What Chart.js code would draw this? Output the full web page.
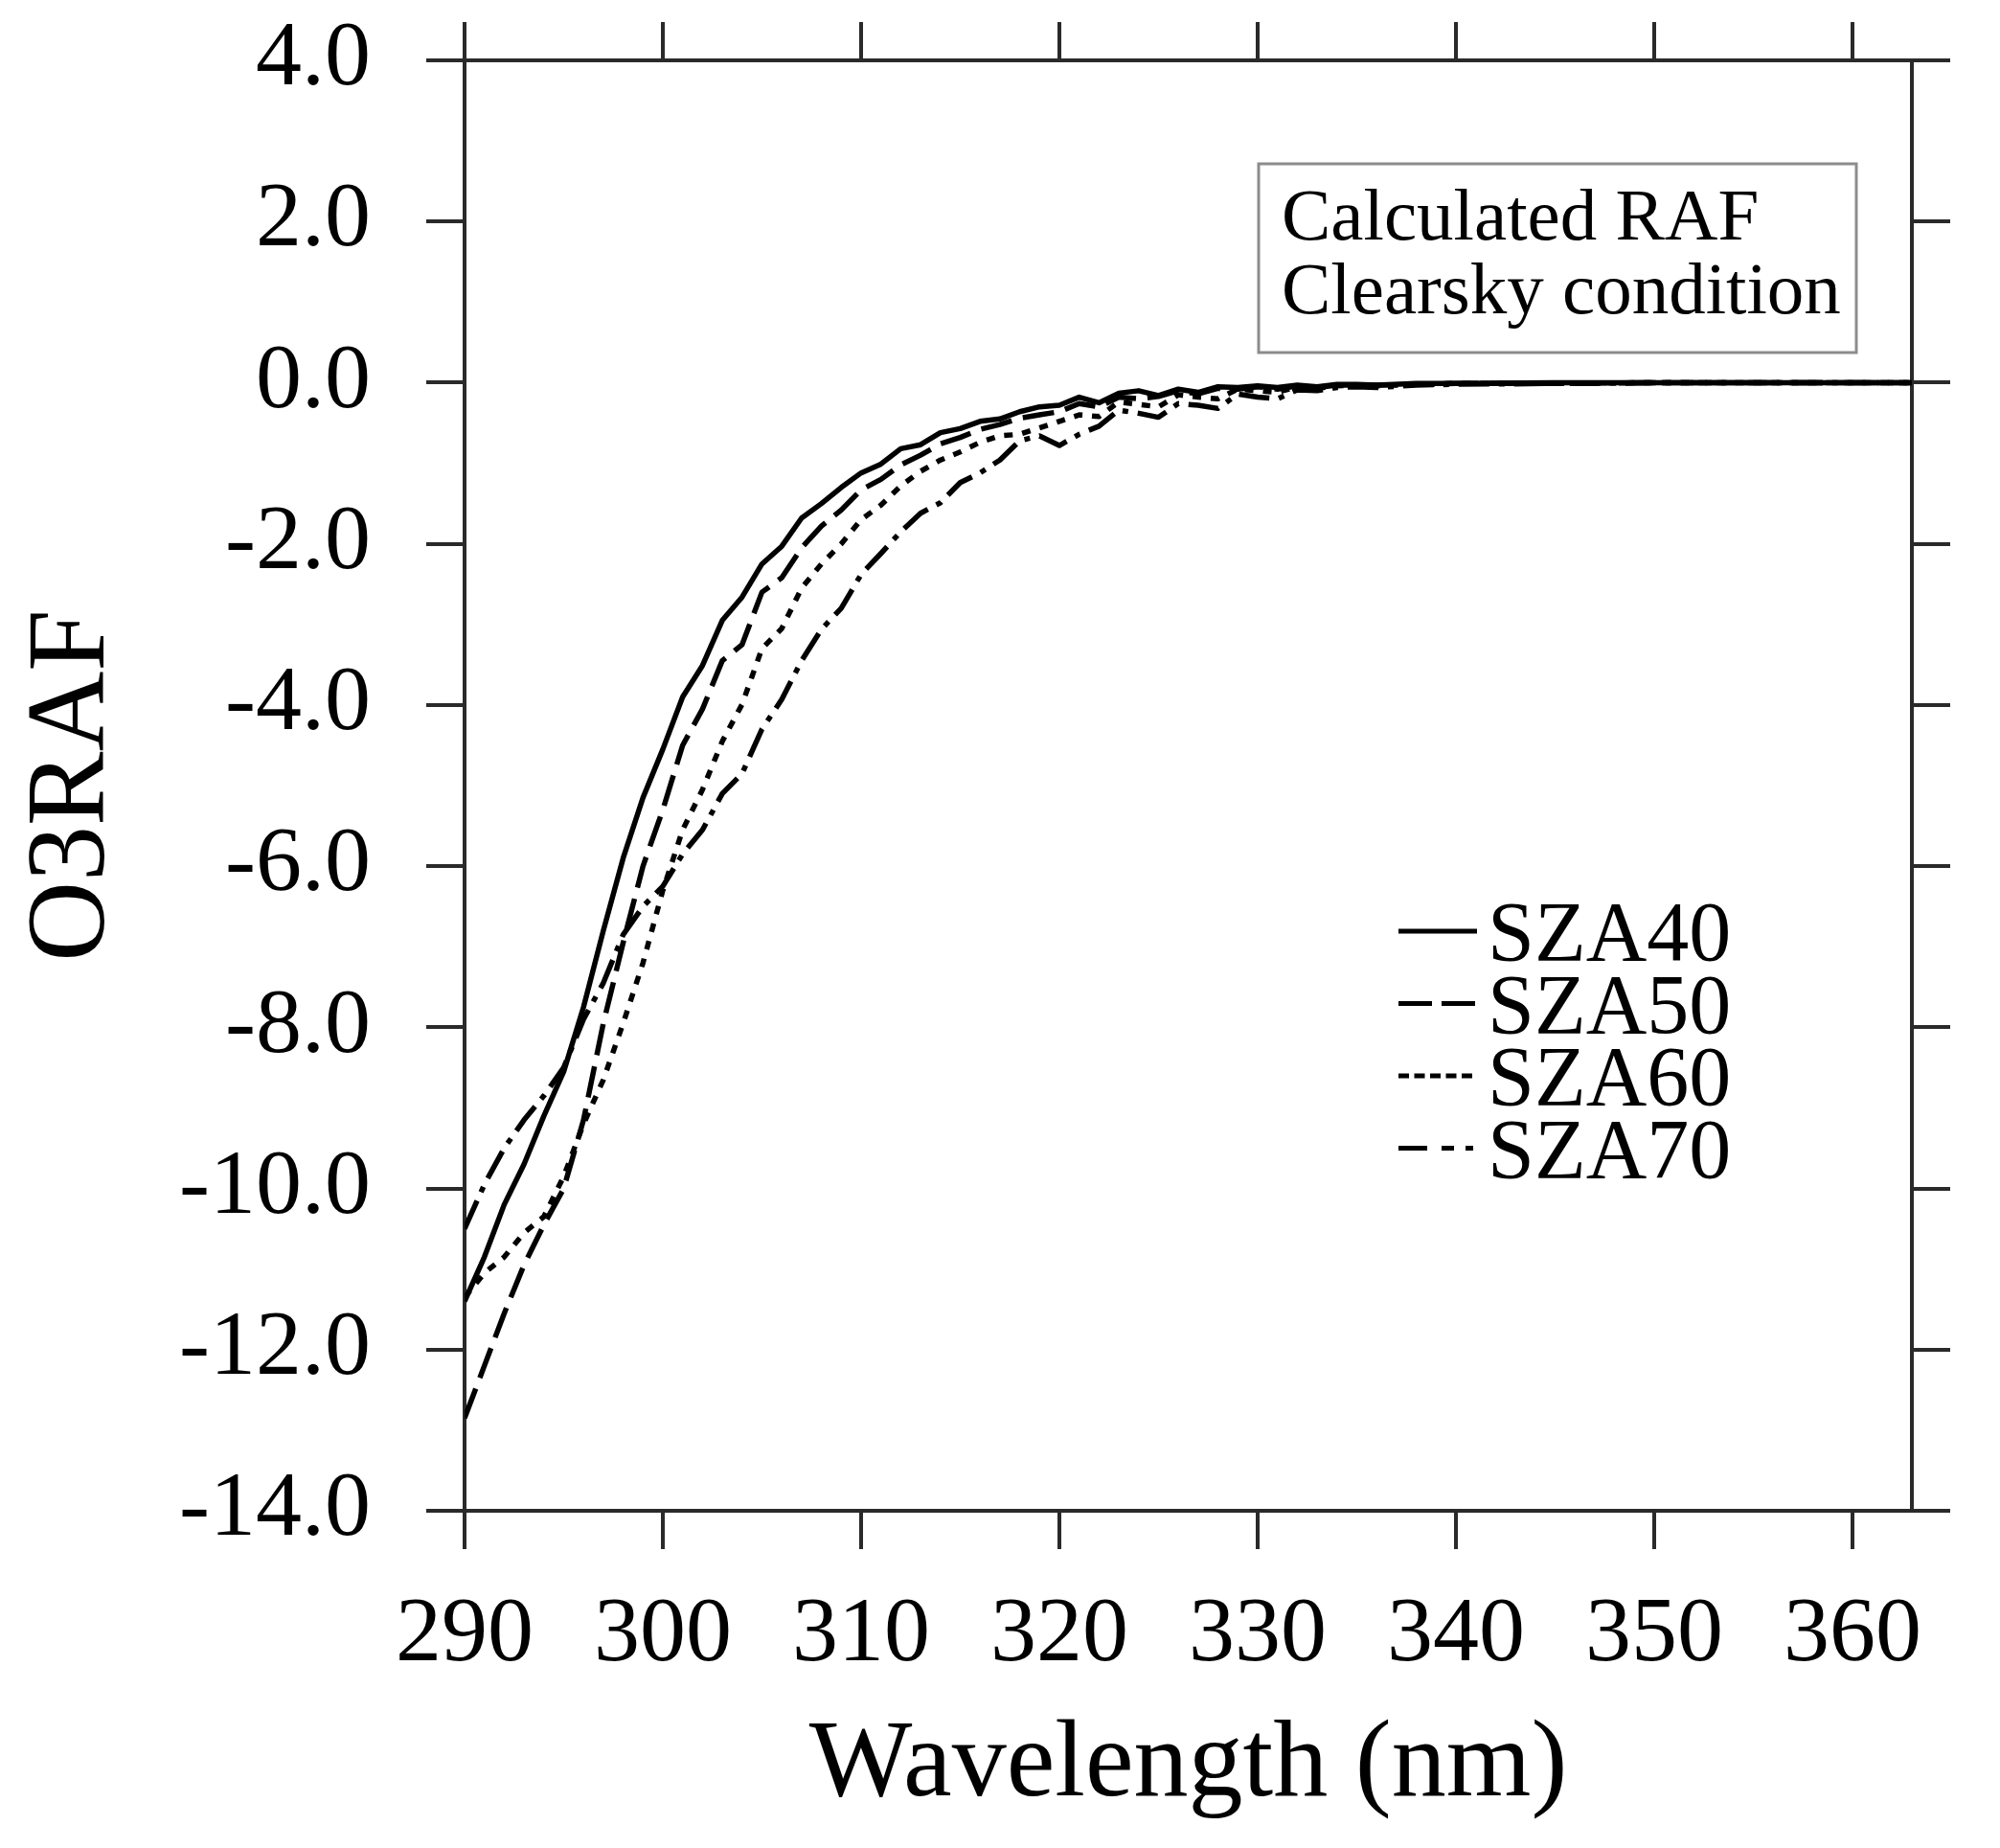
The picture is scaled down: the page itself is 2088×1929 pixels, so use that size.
<!DOCTYPE html>
<html>
<head>
<meta charset="utf-8">
<title>O3RAF</title>
<script src="https://cdn.jsdelivr.net/npm/chart.js@4.4.1/dist/chart.umd.min.js"></script>
<style>
  html, body { margin: 0; padding: 0; background: #fff; }
  canvas { display: block; }
</style>
</head>
<body>
<canvas id="chart" width="2088" height="1929"></canvas>
<script>
// wavelengths (nm) shared by all four curves
const wavelength = [290, 291, 292, 293, 294, 295, 296, 297, 298, 299,
    300, 301, 302, 303, 304, 305, 306, 307, 308, 309,
    310, 311, 312, 313, 314, 315, 316, 317, 318, 319,
    320, 321, 322, 323, 324, 325, 326, 327, 328, 329,
    330, 331, 332, 333, 334, 335, 336, 338, 340, 345,
    350, 355, 360, 363];

const sza40 = [-11.40, -10.85, -10.20, -9.70, -9.10, -8.55, -7.75, -6.80, -5.90, -5.15,
    -4.55, -3.90, -3.51, -2.95, -2.66, -2.25, -2.03, -1.68, -1.50, -1.30,
    -1.12, -1.01, -0.82, -0.77, -0.62, -0.57, -0.48, -0.45, -0.36, -0.30,
    -0.28, -0.18, -0.25, -0.13, -0.10, -0.16, -0.08, -0.12, -0.05, -0.06,
    -0.04, -0.06, -0.03, -0.05, -0.02, -0.02, -0.03, -0.01, -0.01, 0,
    0, 0, 0, 0];

const sza50 = [-12.85, -12.20, -11.55, -10.95, -10.45, -10.00, -9.15, -7.95, -6.95, -6.00,
    -5.30, -4.50, -4.05, -3.45, -3.25, -2.60, -2.42, -2.05, -1.78, -1.58,
    -1.33, -1.20, -1.02, -0.90, -0.76, -0.68, -0.58, -0.52, -0.44, -0.40,
    -0.36, -0.26, -0.30, -0.18, -0.20, -0.17, -0.10, -0.14, -0.07, -0.08,
    -0.05, -0.08, -0.04, -0.06, -0.03, -0.03, -0.03, -0.02, -0.01, -0.01,
    0, 0, 0, 0];

const sza60 = [-11.35, -11.05, -10.85, -10.55, -10.35, -9.85, -9.20, -8.65, -7.95, -7.20,
    -6.30, -5.55, -5.05, -4.45, -3.99, -3.30, -3.05, -2.55, -2.25, -2.00,
    -1.70, -1.52, -1.28, -1.10, -0.96, -0.86, -0.74, -0.66, -0.64, -0.56,
    -0.48, -0.40, -0.42, -0.24, -0.27, -0.30, -0.15, -0.18, -0.20, -0.08,
    -0.10, -0.12, -0.05, -0.07, -0.04, -0.03, -0.04, -0.02, -0.01, -0.01,
    0, 0, 0, 0];

const sza70 = [-10.50, -9.95, -9.50, -9.15, -8.85, -8.50, -7.90, -7.45, -6.85, -6.50,
    -6.25, -5.85, -5.55, -5.10, -4.85, -4.30, -3.93, -3.45, -3.06, -2.80,
    -2.38, -2.12, -1.85, -1.62, -1.49, -1.24, -1.12, -0.96, -0.72, -0.66,
    -0.78, -0.64, -0.54, -0.34, -0.38, -0.43, -0.26, -0.28, -0.32, -0.14,
    -0.18, -0.20, -0.09, -0.10, -0.06, -0.05, -0.06, -0.03, -0.02, -0.01,
    0, 0, 0, 0];

const seriesNames = ['SZA40', 'SZA50', 'SZA60', 'SZA70'];
const xTickValues = [290, 300, 310, 320, 330, 340, 350, 360];
const yTickValues = [-14, -12, -10, -8, -6, -4, -2, 0, 2, 4];
const captionLines = ['Calculated RAF', 'Clearsky condition'];
const xTitle = 'Wavelength (nm)';
const yTitle = 'O3RAF';

// dash styles: plot curves and the little key samples
const plotDashes = [[], [33, 12], [9, 10], [32, 10, 6, 10]];
const keyDashes = [[], [35, 10], [11, 5.5], [30, 15, 13, 12, 8, 40]];

const FONT = '"Liberation Serif", "Times New Roman", serif';
const AXIS_COLOR = '#2a2a2a';

function toPoints(ys) {
    return wavelength.map((w, i) => ({ x: w, y: ys[i] }));
}

// caption box and line key drawn inside the plot
const keyPlugin = {
    id: 'keyPlugin',
    afterDraw(chart) {
        const ctx = chart.ctx;
        const area = chart.chartArea;
        ctx.save();

        // caption box top right
        const bx = area.left + 829, by = area.top + 108;
        ctx.strokeStyle = '#8c8c8c';
        ctx.lineWidth = 3;
        ctx.strokeRect(bx, by, 624, 197);
        ctx.fillStyle = '#000';
        ctx.font = '77px ' + FONT;
        ctx.textAlign = 'left';
        ctx.textBaseline = 'alphabetic';
        ctx.fillText(captionLines[0], bx + 24, by + 79);
        ctx.fillText(captionLines[1], bx + 24, by + 156);

        // line key
        const lx0 = area.left + 975, lx1 = area.left + 1057;
        ctx.font = '88px ' + FONT;
        ctx.strokeStyle = '#000';
        ctx.lineWidth = 5;
        seriesNames.forEach((name, i) => {
            const y = area.top + 909 + i * 75.5;
            ctx.setLineDash(keyDashes[i]);
            ctx.beginPath();
            ctx.moveTo(lx0, y);
            ctx.lineTo(lx1, y);
            ctx.stroke();
            ctx.setLineDash([]);
            ctx.fillText(name, area.left + 1068, y + 30);
        });
        ctx.restore();
    }
};

document.addEventListener('DOMContentLoaded', () => {
    Chart.defaults.color = '#000';
    Chart.defaults.font.family = FONT;

    const useTicks = values => scale => {
        scale.ticks = values.map(v => ({ value: v }));
    };
    // fixed axis boxes so the plot frame lands where the original one is
    const fixSize = (w, h) => s => {
        if (w !== null) s.width = w;
        if (h !== null) s.height = h;
        s.paddingTop = 0;
        s.paddingBottom = 0;
        s.paddingLeft = 0;
        s.paddingRight = 0;
    };
    const tickGrid = {
        drawOnChartArea: false,
        drawTicks: true,
        tickLength: 40,
        tickWidth: 4,
        color: AXIS_COLOR,
        lineWidth: 4
    };
    const border = { display: true, color: AXIS_COLOR, width: 4 };

    const ctx = document.getElementById('chart').getContext('2d');
    new Chart(ctx, {
        type: 'line',
        data: {
            datasets: seriesNames.map((name, i) => ({
                label: name,
                data: toPoints([sza40, sza50, sza60, sza70][i]),
                borderColor: '#000',
                borderWidth: 5.5,
                borderDash: plotDashes[i],
                borderJoinStyle: 'round',
                pointRadius: 0,
                tension: 0,
                fill: false
            }))
        },
        options: {
            responsive: false,
            devicePixelRatio: 1,
            animation: false,
            events: [],
            layout: { padding: 0 },
            plugins: {
                legend: { display: false },
                tooltip: { enabled: false }
            },
            scales: {
                x: {
                    type: 'linear',
                    position: 'bottom',
                    min: 290,
                    max: 363,
                    afterBuildTicks: useTicks(xTickValues),
                    afterFit: fixSize(null, 352),
                    ticks: {
                        padding: 43,
                        maxRotation: 0,
                        autoSkip: false,
                        font: { size: 96, lineHeight: 1 },
                        callback: v => String(Math.round(v))
                    },
                    grid: tickGrid,
                    border: border,
                    title: {
                        display: true,
                        text: xTitle,
                        font: { size: 114, lineHeight: 1 },
                        padding: { top: 0, bottom: 28 }
                    }
                },
                x2: {
                    type: 'linear',
                    position: 'top',
                    min: 290,
                    max: 363,
                    afterBuildTicks: useTicks(xTickValues),
                    afterFit: fixSize(null, 63),
                    ticks: { display: false },
                    grid: tickGrid,
                    border: border
                },
                y: {
                    type: 'linear',
                    position: 'left',
                    min: -14,
                    max: 4,
                    afterBuildTicks: useTicks(yTickValues),
                    afterFit: fixSize(485, null),
                    ticks: {
                        padding: 58,
                        font: { size: 96, lineHeight: 1 },
                        callback: v => Number(v).toFixed(1)
                    },
                    grid: tickGrid,
                    border: border,
                    title: {
                        display: true,
                        text: yTitle,
                        font: { size: 116, lineHeight: 1 },
                        padding: { top: 20, bottom: 0 }
                    }
                },
                y2: {
                    type: 'linear',
                    position: 'right',
                    min: -14,
                    max: 4,
                    afterBuildTicks: useTicks(yTickValues),
                    afterFit: fixSize(92, null),
                    ticks: { display: false },
                    grid: tickGrid,
                    border: border
                }
            }
        },
        plugins: [keyPlugin]
    });
});
</script>
</body>
</html>
